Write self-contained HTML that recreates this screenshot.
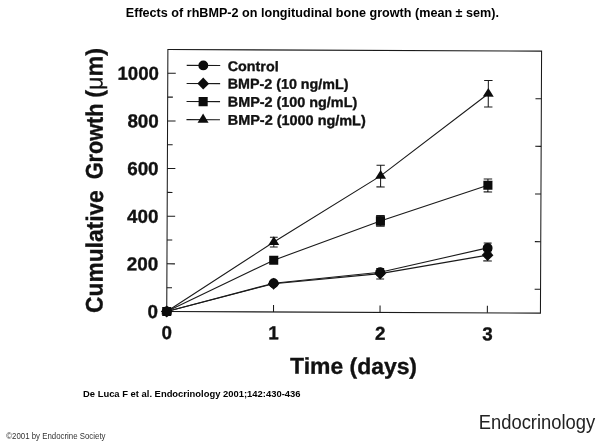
<!DOCTYPE html>
<html><head><meta charset="utf-8"><title>Effects of rhBMP-2</title>
<style>
html,body{margin:0;padding:0;background:#fff;}
body{width:600px;height:442px;overflow:hidden;position:relative;font-family:"Liberation Sans",sans-serif;}
svg .fig text{stroke:#111;stroke-width:0.35px;stroke-linejoin:round;}
svg .fig text tspan{stroke-width:0.15px;}
svg{position:absolute;left:0;top:0;font-family:"Liberation Sans",sans-serif;will-change:transform;opacity:0.999;}
</style></head><body>
<svg width="600" height="442" viewBox="0 0 600 442">
<rect width="600" height="442" fill="#fff"/>
<text transform="translate(125.80 16.70) scale(1.0169 1)" font-size="12.4" font-weight="bold" text-anchor="start" fill="#000">Effects of rhBMP-2 on longitudinal bone growth (mean ± sem).</text>
<g class="fig" transform="rotate(0.25 354.16 181.29)">
<rect x="167.31" y="50.29" width="373.7" height="262.0" fill="none" stroke="#1a1a1a" stroke-width="1.05"/>
<path d="M167.31 312.29h8 M167.31 288.47h5.2 M541.01 288.47h-5.9 M167.31 264.65h8 M167.31 240.84h5.2 M541.01 240.84h-5.9 M167.31 217.02h8 M167.31 193.20h5.2 M541.01 193.20h-5.9 M167.31 169.38h8 M167.31 145.56h5.2 M541.01 145.56h-5.9 M167.31 121.74h8 M167.31 97.93h5.2 M541.01 97.93h-5.9 M167.31 74.11h8 M274.08 312.29v-7 M380.60 312.29v-7 M487.92 312.29v-7" stroke="#1a1a1a" stroke-width="1.05" fill="none"/>
<polyline points="167.31,312.29 274.08,242.35 380.60,175.78 487.92,93.12" fill="none" stroke="#1a1a1a" stroke-width="1.1"/>
<polyline points="167.31,312.29 274.08,260.55 380.60,220.78 487.92,184.72" fill="none" stroke="#1a1a1a" stroke-width="1.1"/>
<polyline points="167.31,312.29 274.08,283.55 380.60,272.09 487.92,247.32" fill="none" stroke="#1a1a1a" stroke-width="1.1"/>
<polyline points="167.31,312.29 274.08,284.05 380.60,273.48 487.92,254.52" fill="none" stroke="#1a1a1a" stroke-width="1.1"/>
<path d="M487.92 79.92V106.42M483.72 79.92h8.4M483.72 106.42h8.4 M380.60 165.18V186.78M376.45 165.18h8.3M376.45 186.78h8.3 M274.08 237.55V247.35M270.18 237.55h7.8M270.18 247.35h7.8 M487.92 178.42V191.32M483.67 178.42h8.5M483.67 191.32h8.5 M487.92 242.52V251.42M483.97 242.52h7.9M483.97 251.42h7.9 M487.92 249.92V260.32M483.62 249.92h8.6M483.62 260.32h8.6 M380.60 268.38V278.88M376.65 268.38h7.9M376.65 278.88h7.9" stroke="#1a1a1a" stroke-width="1.05" fill="none"/>
<path d="M380.60 215.78V225.88M376.30 215.78h8.6M376.30 225.88h8.6" stroke="#1a1a1a" stroke-width="1.7" fill="none"/>
<g fill="#0c0c0c">
<path d="M161.86 315.19L167.31 306.49L172.76 315.19Z"/>
<rect x="162.76" y="307.74" width="9.1" height="9.1"/>
<circle cx="167.31" cy="312.29" r="4.95"/>
<path d="M161.46 312.29L167.31 306.29L173.16 312.29L167.31 318.29Z"/>
<path d="M268.63 245.25L274.08 236.55L279.53 245.25Z"/>
<rect x="269.53" y="256.00" width="9.1" height="9.1"/>
<circle cx="274.08" cy="283.55" r="4.95"/>
<path d="M268.23 284.05L274.08 278.05L279.93 284.05L274.08 290.05Z"/>
<path d="M375.15 178.68L380.60 169.98L386.05 178.68Z"/>
<rect x="376.05" y="216.23" width="9.1" height="9.1"/>
<circle cx="380.60" cy="272.09" r="4.95"/>
<path d="M374.75 273.48L380.60 267.48L386.45 273.48L380.60 279.48Z"/>
<path d="M482.47 96.02L487.92 87.32L493.37 96.02Z"/>
<rect x="483.37" y="180.17" width="9.1" height="9.1"/>
<circle cx="487.92" cy="247.32" r="4.95"/>
<path d="M482.07 254.52L487.92 248.52L493.77 254.52L487.92 260.52Z"/>
</g>
<path d="M186.21 66.06H219.71 M186.21 84.26H219.71 M186.21 102.26H219.71 M186.21 120.36H219.71" stroke="#1a1a1a" stroke-width="1.1"/>
<g fill="#0c0c0c">
<circle cx="202.81" cy="66.06" r="4.95"/>
<path d="M196.96 84.26L202.81 78.26L208.66 84.26L202.81 90.26Z"/>
<rect x="198.26" y="97.71" width="9.1" height="9.1"/>
<path d="M197.31 123.43L202.81 114.23L208.31 123.43Z"/>
</g>
<g font-weight="bold" font-size="14.1" fill="#111">
<text transform="translate(227.32 71.55) scale(1.0155 1)" font-size="14.1" font-weight="bold" text-anchor="start">Control</text>
<text transform="translate(227.40 89.05) scale(1.0136 1)" font-size="14.1" font-weight="bold" text-anchor="start">BMP-2 (10 ng/mL)</text>
<text transform="translate(227.48 107.15) scale(1.0203 1)" font-size="14.1" font-weight="bold" text-anchor="start">BMP-2 (100 ng/mL)</text>
<text transform="translate(227.55 125.25) scale(1.0240 1)" font-size="14.1" font-weight="bold" text-anchor="start">BMP-2 (1000 ng/mL)</text>
</g>
<g font-weight="bold" font-size="18.8" fill="#111" text-anchor="end">
<text transform="translate(158.53 318.89) scale(0.9994 1)" font-size="18.8" font-weight="bold" text-anchor="end">0</text>
<text transform="translate(158.53 271.25) scale(1.0010 1)" font-size="18.8" font-weight="bold" text-anchor="end">200</text>
<text transform="translate(158.53 223.62) scale(1.0010 1)" font-size="18.8" font-weight="bold" text-anchor="end">400</text>
<text transform="translate(158.53 175.98) scale(1.0010 1)" font-size="18.8" font-weight="bold" text-anchor="end">600</text>
<text transform="translate(158.53 128.34) scale(1.0010 1)" font-size="18.8" font-weight="bold" text-anchor="end">800</text>
<text transform="translate(158.53 80.71) scale(0.9946 1)" font-size="18.8" font-weight="bold" text-anchor="end">1000</text>
</g>
<g font-weight="bold" font-size="18.8" fill="#111" text-anchor="middle">
<text transform="translate(167.51 339.72) scale(0.9994 1)" font-size="18.8" font-weight="bold" text-anchor="middle">0</text>
<text transform="translate(274.28 339.72) scale(0.9994 1)" font-size="18.8" font-weight="bold" text-anchor="middle">1</text>
<text transform="translate(380.80 339.72) scale(0.9994 1)" font-size="18.8" font-weight="bold" text-anchor="middle">2</text>
<text transform="translate(488.12 339.72) scale(0.9994 1)" font-size="18.8" font-weight="bold" text-anchor="middle">3</text>
</g>
<text transform="translate(290.94 373.88) scale(1.0100 1)" font-size="22.7" font-weight="bold" text-anchor="start" fill="#111">Time (days)</text>
<g transform="translate(103.08 314.00) rotate(-90)"><text transform="scale(0.9493 1)" x="-0.00" y="0" font-size="24.0" font-weight="bold" fill="#111">Cumulative</text></g>
<g transform="translate(102.49 180.30) rotate(-90)"><text transform="scale(0.9000 1)" x="-0.00" y="0" font-size="24.0" font-weight="bold" fill="#111">Growth</text></g>
<g transform="translate(102.14 98.80) rotate(-90)"><text transform="scale(0.9706 1)" x="-0.00" y="0" font-size="24.0" font-weight="bold" fill="#111">(<tspan font-weight="normal">μ</tspan>m)</text></g>
</g>
<text transform="translate(83.00 397.40) scale(0.9711 1)" font-size="9.7" font-weight="bold" text-anchor="start" fill="#000">De Luca F et al. Endocrinology 2001;142:430-436</text>
<text transform="translate(478.70 428.60) scale(0.9292 1)" font-size="19.8" font-weight="normal" text-anchor="start" fill="#222">Endocrinology</text>
<text transform="translate(6.30 438.80) scale(0.8020 1)" font-size="9.8" font-weight="normal" text-anchor="start" fill="#333">©2001 by Endocrine Society</text>
</svg>
</body></html>
